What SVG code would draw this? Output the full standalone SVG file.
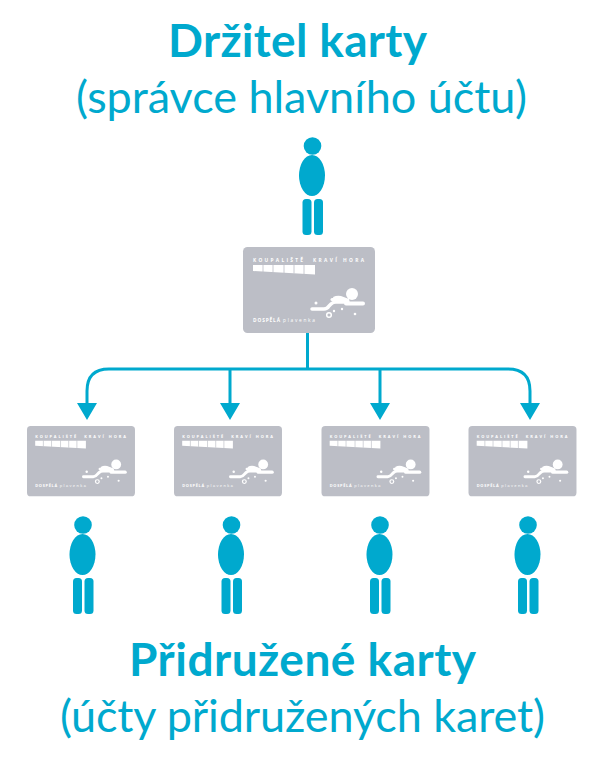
<svg xmlns="http://www.w3.org/2000/svg" width="601" height="776" viewBox="0 0 601 776">
<style>
.t{font-family:Lato,"Open Sans",sans-serif;fill:#00a9ce}
.b{font-weight:700;font-size:46px}
.r{font-size:45px}
.c{fill:none;stroke:#00a9ce;stroke-width:3}
.p{fill:#00a9ce}
.g{fill:#bcbec6}
.w{fill:#fff}
.l{stroke:#fff;fill:none;stroke-linecap:round;stroke-linejoin:round}
.k{font-family:"Open Sans",sans-serif;fill:#fff;font-weight:700;font-size:4.8px}
.k2{font-family:"Open Sans",sans-serif;fill:#fff;font-size:4.8px}
</style>
<defs>
<g id="card">
<rect class="g" width="132" height="86" rx="4.500"/>
<text class="k" x="10" y="15" textLength="50">KOUPALIŠTĚ</text>
<text class="k" x="70" y="15" textLength="51">KRAVÍ HORA</text>
<path class="w" d="M10 18h62v9.500l-62-3.500z"/>
<path d="M20 17.500v7.500M30 17.500v8M41 17.500v8.500M51 17.500v9M61 17.500v9.500" stroke="#bcbec6" stroke-width=".8" fill="none"/>
<circle class="w" cx="109" cy="47" r="6"/>
<path class="l" stroke-width="3" d="M89 52.500h13"/>
<path class="l" stroke-width="3.500" d="M69 62h12q3 0 5-3l2-2q2-2 5-2h8"/>
<path class="w" d="M90 50q4-2 8-1l8 3 1 4h-15z"/>
<path class="l" stroke-width="4" d="M103 56.500h17"/>
<circle class="w" cx="73" cy="56" r="1.500"/>
<circle cx="86" cy="68" r="2.300" fill="none" stroke="#fff" stroke-width="1.500"/>
<circle class="w" cx="91" cy="64" r="1.200"/>
<circle class="w" cx="99" cy="62" r="1.200"/>
<circle class="w" cx="112" cy="67" r="1.300"/>
<text class="k" x="10" y="75" textLength="27">DOSPĚLÁ</text>
<text class="k2" x="40" y="75" textLength="32">plavenka</text>
</g>
<g id="person" class="p">
<circle cx="13" cy="9" r="8.800"/>
<ellipse cx="12.500" cy="38.500" rx="13" ry="20.500"/>
<rect x="3" y="62" width="9" height="36" rx="3.500"/>
<rect x="14.500" y="62" width="9" height="36" rx="3.500"/>
</g>
</defs>
<g id="title"><text class="t b" x="168" y="57" textLength="259">Držitel karty</text>
<text class="t r" x="76" y="113" textLength="451">(správce hlavního účtu)</text></g>
<g id="connectors">
<path class="c" d="M307.500 333V369"/>
<path class="c" d="M87 403V391Q87 369 109 369H508Q530 369 530 391V403"/>
<path class="p" d="M77 403h20l-10 17zM220 403h20l-10 17zM370 403h20l-10 17zM520 403h20l-10 17z"/>
<path class="c" d="M230 369V403M380 369V403"/>
</g>
<g id="holder"><use href="#person" x="299.500" y="137"/></g>
<g id="main-card"><use href="#card" x="243" y="247"/></g>
<g id="card-1"><use href="#card" transform="translate(27 426) scale(.818)"/></g>
<g id="card-2"><use href="#card" transform="translate(174 426) scale(.818)"/></g>
<g id="card-3"><use href="#card" transform="translate(321.500 426) scale(.818)"/></g>
<g id="card-4"><use href="#card" transform="translate(468.500 426) scale(.818)"/></g>
<g id="person-1"><use href="#person" x="70" y="516"/></g>
<g id="person-2"><use href="#person" x="218.500" y="516"/></g>
<g id="person-3"><use href="#person" x="367" y="516"/></g>
<g id="person-4"><use href="#person" x="515" y="516"/></g>
<g id="footer"><text class="t b" x="129" y="676" textLength="347">Přidružené karty</text>
<text class="t r" x="60" y="732" textLength="485">(účty přidružených karet)</text></g>
</svg>
